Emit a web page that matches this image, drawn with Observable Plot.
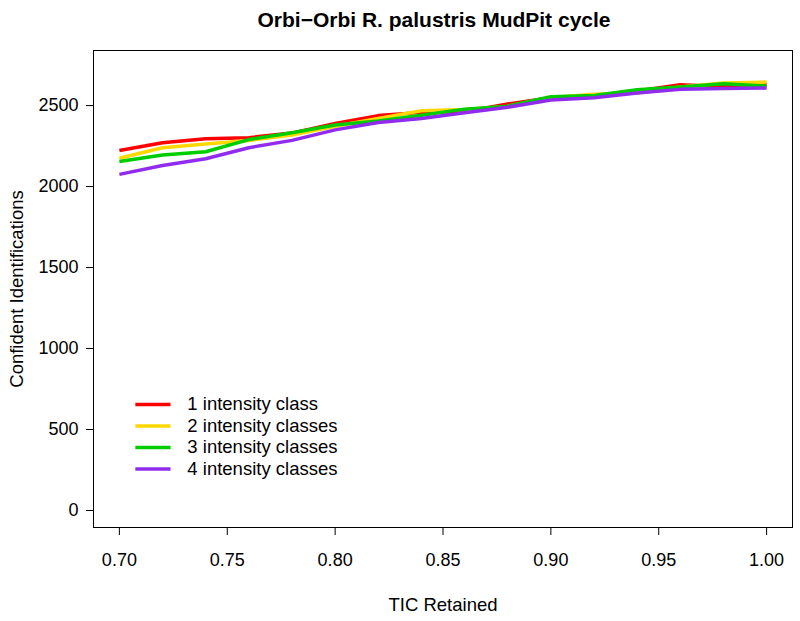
<!DOCTYPE html>
<html>
<head>
<meta charset="utf-8">
<script src="https://cdn.jsdelivr.net/npm/d3@7"></script>
<script src="https://cdn.jsdelivr.net/npm/@observablehq/plot@0.6"></script>
<style>
  html, body { margin: 0; padding: 0; background: #fff; }
  svg { display: block; }
</style>
</head>
<body>
<div id="chart"></div>
<script>
const tic = [0.70, 0.72, 0.74, 0.76, 0.78, 0.80, 0.82, 0.84, 0.86, 0.88, 0.90, 0.92, 0.94, 0.96, 0.98, 1.00];
const class1 = [2222, 2270, 2295, 2302, 2330, 2390, 2438, 2458, 2462, 2510, 2548, 2560, 2590, 2628, 2618, 2630];
const class2 = [2175, 2240, 2262, 2285, 2318, 2372, 2420, 2468, 2475, 2495, 2550, 2570, 2578, 2615, 2640, 2645];
const class3 = [2155, 2195, 2215, 2290, 2332, 2380, 2405, 2440, 2478, 2496, 2555, 2562, 2598, 2615, 2635, 2620];
const class4 = [2075, 2130, 2172, 2240, 2285, 2350, 2395, 2420, 2455, 2490, 2535, 2548, 2578, 2600, 2605, 2608];
const seriesNames = ["1 intensity class", "2 intensity classes", "3 intensity classes", "4 intensity classes"];
const seriesColors = ["#FF0000", "#FFD700", "#00CD00", "#912CEE"];
const xTicks = [0.70, 0.75, 0.80, 0.85, 0.90, 0.95, 1.00];
const yTicks = [0, 500, 1000, 1500, 2000, 2500];
const title = "Orbi\u2212Orbi R. palustris MudPit cycle";
const xLabel = "TIC Retained";
const yLabel = "Confident Identifications";

const allSeries = [class1, class2, class3, class4];
const rows = [];
allSeries.forEach((vals, s) => vals.forEach((v, i) => rows.push({x: tic[i], y: v, s: seriesNames[s]})));

const legendRows = seriesNames.map((n, i) => ({name: n, color: seriesColors[i], i}));

const font = "'Liberation Sans', Arial, Helvetica, sans-serif";

const chart = Plot.plot({
  width: 800,
  height: 621,
  marginLeft: 93,
  marginRight: 8,
  marginTop: 50,
  marginBottom: 94,
  style: {fontFamily: font, fontSize: "18px", color: "#000", background: "#fff"},
  x: {domain: [0.688, 1.012], label: null},
  y: {domain: [-105, 2840], label: null},
  color: {domain: seriesNames, range: seriesColors},
  marks: [
    Plot.frame({stroke: "#000", strokeWidth: 1}),
    Plot.axisX({ticks: xTicks, tickFormat: d3.format(".2f"), tickSize: 8, tickPadding: 18, fontSize: 18, label: null}),
    Plot.axisY({ticks: yTicks, tickFormat: d3.format("d"), tickSize: 7, tickPadding: 8, fontSize: 18, label: null}),
    Plot.line(rows, {x: "x", y: "y", z: "s", stroke: "s", strokeWidth: 3.5, strokeLinejoin: "round", strokeLinecap: "butt"}),
    Plot.link(legendRows, {
      x1: () => 0.7074, x2: () => 0.7237,
      y1: d => 655 - d.i * 133, y2: d => 655 - d.i * 133,
      stroke: d => d.color, strokeWidth: 3.5
    }),
    Plot.text(legendRows, {
      x: () => 0.7315, y: d => 655 - d.i * 133, text: "name",
      textAnchor: "start", lineAnchor: "middle", fontSize: 18.5, fill: "#000"
    }),
    Plot.text([title], {frameAnchor: "top", textAnchor: "middle", lineAnchor: "middle", dx: -9, dy: -30, fontWeight: "bold", fontSize: 21, fill: "#000"}),
    Plot.text([xLabel], {frameAnchor: "bottom", textAnchor: "middle", lineAnchor: "middle", dy: 78, fontSize: 18.5, fill: "#000"}),
    Plot.text([yLabel], {frameAnchor: "left", textAnchor: "middle", lineAnchor: "middle", dx: -76, rotate: -90, fontSize: 18.5, fill: "#000"})
  ]
});
document.getElementById("chart").appendChild(chart);
</script>
</body>
</html>
